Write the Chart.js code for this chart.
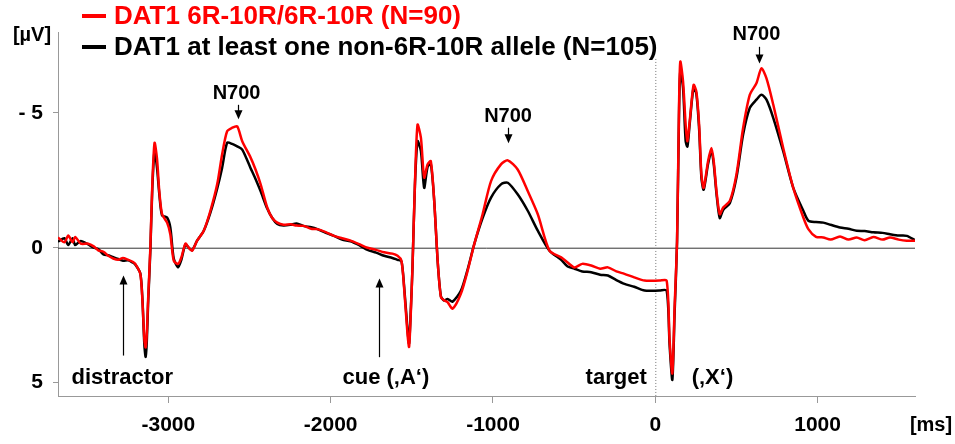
<!DOCTYPE html>
<html>
<head>
<meta charset="utf-8">
<script src="https://cdn.jsdelivr.net/npm/chart.js@4.4.1/dist/chart.umd.min.js"></script>
<style>
  html, body { margin: 0; padding: 0; background: #fff; }
  #wrap { width: 955px; height: 444px; position: relative; }
</style>
</head>
<body>
<div id="wrap"><canvas id="erp"></canvas></div>
<script>
// time points (ms) and amplitudes (µV)
const timesMs = [
  -3680, -3640, -3617, -3590, -3574, -3540, -3494, -3460, -3432, -3400,
  -3370, -3340, -3309, -3280, -3247, -3220, -3204, -3173, -3160, -3148,
  -3140, -3133, -3125, -3111, -3099, -3085, -3070, -3056, -3039, -3008,
  -2988, -2967, -2940, -2920, -2895, -2875, -2854, -2823, -2782, -2741,
  -2699, -2669, -2638, -2607, -2576, -2545, -2494, -2463, -2432, -2391,
  -2360, -2329, -2290, -2247, -2210, -2165, -2120, -2082, -2030, -1980,
  -1930, -1877, -1820, -1773, -1720, -1671, -1620, -1588, -1564, -1548,
  -1527, -1517, -1507, -1496, -1481, -1465, -1444, -1424, -1403, -1383,
  -1362, -1341, -1321, -1301, -1280, -1249, -1198, -1156, -1115, -1064,
  -1012, -951, -909, -848, -786, -724, -652, -580, -540, -498,
  -450, -395, -340, -292, -240, -190, -130, -66, 25, 70,
  88, 105, 119, 134, 146, 154, 171, 187, 198, 212,
  236, 253, 270, 284, 298, 325, 346, 360, 377, 397,
  418, 459, 500, 541, 582, 623, 654, 685, 727, 788,
  850, 912, 943, 990, 1035, 1080, 1138, 1190, 1241, 1290,
  1344, 1400, 1446, 1500, 1549, 1600
];

const red6R10R = [
  -0.38, -0.2, -0.45, -0.2, -0.4, -0.15, -0.15, -0.05, 0.1, 0.15,
  0.3, 0.4, 0.45, 0.38, 0.45, 0.52, 0.6, 0.97, 1.95, 3.4,
  3.7, 3.2, 1.95, 0.0, -2.35, -3.89, -3.3, -2.1, -1.25, -0.93,
  -0.5, 0.48, 0.6, 0.36, -0.15, 0.0, 0.11, -0.26, -0.63, -1.37,
  -2.36, -3.46, -4.32, -4.45, -4.5, -3.95, -3.35, -2.9, -2.36, -1.49,
  -1.1, -0.93, -0.85, -0.87, -0.82, -0.81, -0.7, -0.69, -0.58, -0.44,
  -0.35, -0.26, -0.12, 0.0, 0.08, 0.17, 0.22, 0.3, 0.48, 1.46,
  3.18, 3.68, 2.5, 0.73, -2.36, -4.56, -4.07, -2.6, -3.09, -3.21,
  -1.73, 0.48, 1.83, 1.95, 2.02, 2.26, 1.71, 0.85, -0.14, -1.24,
  -2.47, -3.09, -3.24, -2.9, -2.1, -1.24, 0.11, 0.36, 0.55, 0.73,
  0.6, 0.66, 0.78, 0.73, 0.88, 0.97, 1.1, 1.22, 1.22, 1.22,
  3.43, 4.66, 2.2, -0.26, -5.18, -6.9, -6.16, -4.56, -3.95, -4.69,
  -6.04, -5.79, -4.56, -2.72, -2.22, -3.21, -3.7, -3.21, -2.1, -1.24,
  -1.49, -1.73, -2.72, -4.44, -5.67, -6.1, -6.65, -6.28, -5.3, -3.7,
  -2.22, -1.12, -0.69, -0.4, -0.38, -0.3, -0.42, -0.3, -0.38, -0.28,
  -0.4, -0.3, -0.38, -0.3, -0.26, -0.26
];

const blackOther = [
  -0.22, -0.35, -0.1, -0.35, -0.1, -0.25, -0.12, 0.0, 0.05, 0.25,
  0.28, 0.35, 0.42, 0.48, 0.47, 0.55, 0.62, 0.95, 1.9, 3.6,
  4.05, 3.5, 2.1, 0.1, -2.2, -3.58, -2.96, -2.0, -1.2, -1.12,
  -0.75, 0.4, 0.73, 0.45, -0.12, 0.0, 0.1, -0.26, -0.63, -1.3,
  -2.2, -2.96, -3.89, -3.85, -3.76, -3.64, -2.96, -2.55, -2.1, -1.45,
  -1.1, -0.88, -0.82, -0.85, -0.9, -0.8, -0.76, -0.69, -0.55, -0.44,
  -0.3, -0.24, -0.08, 0.08, 0.18, 0.3, 0.38, 0.45, 0.5, 1.4,
  3.0, 3.55, 2.4, 0.73, -2.3, -3.95, -3.58, -2.22, -3.0, -3.1,
  -1.73, 0.5, 1.8, 1.96, 1.9, 2.0, 1.6, 0.8, -0.14, -1.1,
  -1.86, -2.35, -2.41, -1.98, -1.37, -0.63, 0.11, 0.45, 0.7, 0.78,
  0.88, 0.91, 1.0, 1.03, 1.2, 1.34, 1.45, 1.59, 1.59, 1.59,
  3.6, 4.9, 2.4, -0.2, -4.9, -6.53, -5.92, -3.95, -3.75, -4.6,
  -5.95, -5.7, -4.4, -2.6, -2.15, -3.1, -3.6, -3.1, -2.0, -1.1,
  -1.4, -1.65, -2.6, -4.2, -5.18, -5.49, -5.67, -5.49, -4.81, -3.58,
  -2.22, -1.37, -1.0, -0.95, -0.93, -0.85, -0.75, -0.7, -0.63, -0.62,
  -0.57, -0.55, -0.5, -0.45, -0.44, -0.28
];

const xTickValues = [-3000, -2000, -1000, 0, 1000];
const yTickValues = [-5, 0, 5];

const legendLabels = [
  { text: 'DAT1 6R-10R/6R-10R (N=90)', color: '#ff0000' },
  { text: 'DAT1 at least one non-6R-10R allele (N=105)', color: '#000000' }
];

// text annotations: [label, time, amplitude]
const eventLabels = [
  ['distractor', -3284, 4.83],
  ['cue (\u201aA\u2018)', -1660, 4.83],
  ['target', -241, 4.83],
  ['(\u201aX\u2018)', 352, 4.83],
  ['N700', -2580, -5.72],
  ['N700', -907, -4.87],
  ['N700', 623, -7.9]
];
// arrows: [time, from amplitude, to amplitude (arrow head)]
const eventArrows = [
  [-3278, 4.0, 1.03],
  [-1704, 4.06, 1.14],
  [-2568, -5.3, -4.76],
  [-907, -4.45, -3.87],
  [636, -7.45, -6.83]
];

const FONT = "'Liberation Sans', Arial, sans-serif";

function toPoints(vals) {
  return timesMs.map((t, i) => ({ x: t, y: vals[i] }));
}

const decorPlugin = {
  id: 'decor',
  beforeDatasetsDraw(chart) {
    const { ctx, chartArea, scales: { x, y } } = chart;
    ctx.save();
    // zero line
    const y0 = y.getPixelForValue(0);
    ctx.strokeStyle = '#333';
    ctx.lineWidth = 1;
    ctx.beginPath();
    ctx.moveTo(chartArea.left, y0 + 0.5);
    ctx.lineTo(chartArea.right, y0 + 0.5);
    ctx.stroke();
    // dotted line at target onset
    const x0 = x.getPixelForValue(0);
    ctx.strokeStyle = '#777';
    ctx.setLineDash([1, 2]);
    ctx.beginPath();
    ctx.moveTo(x0 + 0.5, y.getPixelForValue(-7.0));
    ctx.lineTo(x0 + 0.5, chartArea.bottom);
    ctx.stroke();
    ctx.restore();
  },
  afterDatasetsDraw(chart) {
    const { ctx, scales: { x, y } } = chart;
    ctx.save();
    ctx.fillStyle = '#000';
    ctx.textAlign = 'center';
    ctx.textBaseline = 'middle';
    eventLabels.forEach(([txt, t, v]) => {
      ctx.font = (txt === 'N700' ? 'bold 20px ' : 'bold 22px ') + FONT;
      ctx.fillText(txt, x.getPixelForValue(t), y.getPixelForValue(v));
    });
    ctx.strokeStyle = '#000';
    ctx.lineWidth = 1.2;
    eventArrows.forEach(([t, v1, v2]) => {
      const px = Math.round(x.getPixelForValue(t)) + 0.5;
      const p1 = y.getPixelForValue(v1);
      const p2 = y.getPixelForValue(v2);
      const dir = p2 < p1 ? -1 : 1;
      ctx.beginPath();
      ctx.moveTo(px, p1);
      ctx.lineTo(px, p2 - dir * 6);
      ctx.stroke();
      ctx.beginPath();
      ctx.moveTo(px, p2);
      ctx.lineTo(px - 4, p2 - dir * 9);
      ctx.lineTo(px + 4, p2 - dir * 9);
      ctx.closePath();
      ctx.fill();
    });
    // units
    ctx.font = 'bold 20px ' + FONT;
    ctx.fillText('[\u00b5V]', 32, 35);
    ctx.fillText('[ms]', 931, 425);
    // legend
    ctx.textAlign = 'left';
    ctx.font = 'bold 26px ' + FONT;
    legendLabels.forEach((item, i) => {
      const ly = 16 + i * 31;
      ctx.strokeStyle = item.color;
      ctx.lineWidth = 4;
      ctx.beginPath();
      ctx.moveTo(82, ly);
      ctx.lineTo(106, ly);
      ctx.stroke();
      ctx.fillStyle = item.color;
      ctx.fillText(item.text, 114, ly + 1);
    });
    ctx.restore();
  }
};

new Chart(document.getElementById('erp'), {
  type: 'line',
  data: {
    datasets: [
      { label: legendLabels[0].text, data: toPoints(red6R10R), borderColor: '#ff0000', borderWidth: 2.5, pointRadius: 0, tension: 0.25, fill: false },
      { label: legendLabels[1].text, data: toPoints(blackOther), borderColor: '#000000', borderWidth: 2.5, pointRadius: 0, tension: 0.25, fill: false }
    ]
  },
  options: {
    responsive: true,
    maintainAspectRatio: false,
    animation: false,
    layout: { padding: { left: 0, top: 32, right: 40, bottom: 0 } },
    plugins: { legend: { display: false }, tooltip: { enabled: false } },
    scales: {
      x: {
        type: 'linear',
        min: -3680,
        max: 1600,
        afterBuildTicks: (s) => { s.ticks = xTickValues.map(v => ({ value: v })); },
        afterFit: (s) => { s.height = 48; },
        grid: { display: true, drawOnChartArea: false, drawTicks: true, tickLength: 7, color: '#999' },
        border: { display: true, color: '#999', width: 1 },
        ticks: {
          color: '#000', padding: 10, maxRotation: 0,
          font: { family: FONT, size: 21, weight: 'bold' },
          callback: (v) => String(v)
        }
      },
      y: {
        type: 'linear',
        min: -8,
        max: 5.5,
        reverse: true,
        afterBuildTicks: (s) => { s.ticks = yTickValues.map(v => ({ value: v })); },
        afterFit: (s) => { s.width = 58; },
        grid: { display: true, drawOnChartArea: false, drawTicks: true, tickLength: 5, color: '#999' },
        border: { display: true, color: '#999', width: 1 },
        ticks: {
          color: '#000', padding: 10,
          font: { family: FONT, size: 21, weight: 'bold' },
          callback: (v) => v < 0 ? '- ' + Math.abs(v) : String(v)
        }
      }
    }
  },
  plugins: [decorPlugin]
});
</script>
</body>
</html>
